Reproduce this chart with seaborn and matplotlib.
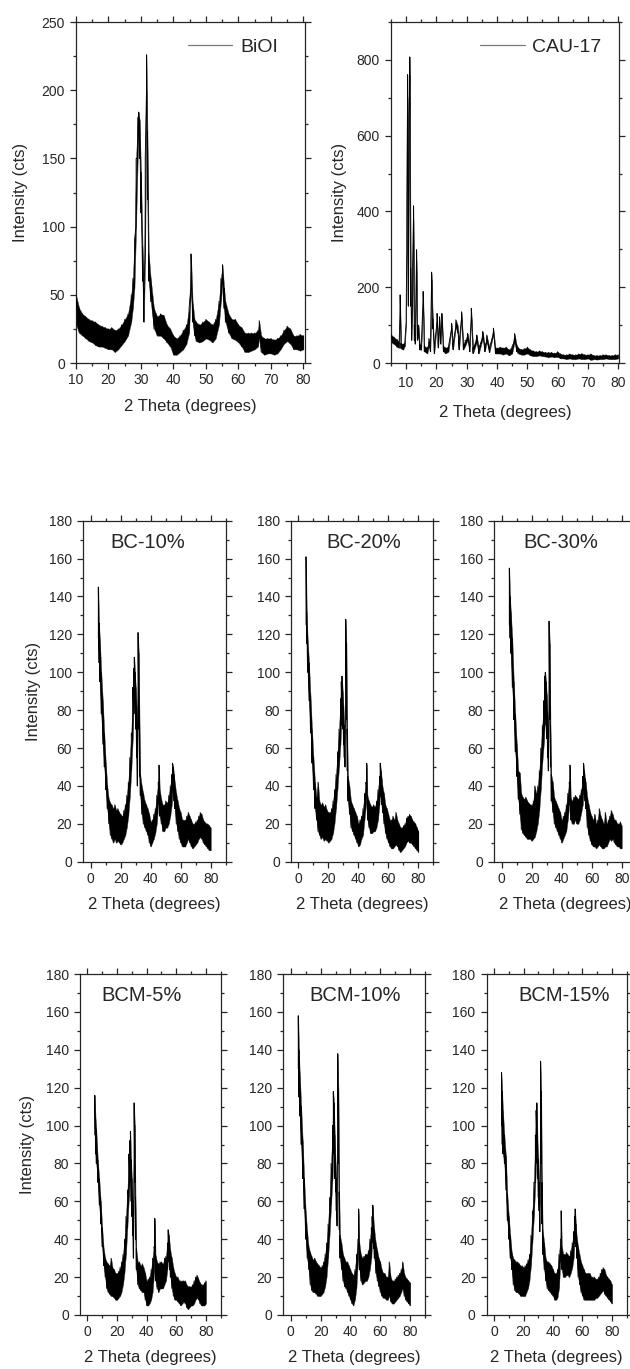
import numpy as np
import pandas as pd
import matplotlib
matplotlib.use("Agg")
import matplotlib.pyplot as plt
from matplotlib.ticker import MultipleLocator
from matplotlib.lines import Line2D
import seaborn as sns

# ---------------------------------------------------------------------------
# XRD patterns: each trace is stored as the 2-theta positions together with the
# lower and upper edge of the noisy signal at that position (counts).
# ---------------------------------------------------------------------------

# BiOI
biol_theta = [10, 11, 12, 13, 14, 15, 16, 17, 18, 19, 20, 21, 22, 23, 24, 25, 26, 27,
              27.5, 28, 28.5, 29, 29.3, 29.6, 30, 30.5, 30.9, 31.3, 31.7, 32.0, 32.4, 33,
              34, 35, 36, 37, 38, 39, 40, 41, 42, 43, 44,
              44.8, 45.4, 45.9, 46.5,
              47, 48, 49, 50, 51, 52, 53, 54,
              54.6, 55.1, 55.6, 56,
              57, 58, 59, 60, 61, 62, 63, 64, 65, 66,
              66.4,
              67, 68, 69, 70, 71, 72, 73, 74, 75, 76, 77, 78, 79, 80]
biol_low = [28, 22, 20, 18, 16, 15, 13, 12, 12, 11, 10, 10, 8, 10, 13, 16, 20, 30,
            40, 55, 100, 150, 170, 150, 110, 60, 30, 80, 200, 120, 60, 45,
            25, 20, 20, 18, 15, 12, 6, 6, 8, 10, 14,
            22, 55, 30, 20,
            16, 15, 16, 18, 17, 15, 18, 28,
            45, 58, 40, 30,
            22, 18, 17, 15, 12, 8, 8, 9, 10, 12,
            18,
            8, 6, 7, 7, 6, 7, 10, 14, 16, 14, 10, 10, 9, 10]
biol_high = [50, 40, 36, 34, 32, 31, 30, 28, 27, 26, 25, 26, 24, 25, 28, 32, 36, 50,
             62, 90, 150, 180, 184, 178, 140, 85, 55, 150, 226, 170, 80, 62,
             40, 34, 36, 35, 28, 25, 20, 18, 20, 24, 28,
             40, 80, 45, 32,
             30, 28, 30, 32, 30, 28, 32, 45,
             62, 72, 55, 45,
             36, 32, 32, 28, 26, 22, 22, 22, 22, 24,
             31,
             20, 18, 18, 18, 17, 18, 20, 24, 27, 25, 20, 20, 21, 20]

# CAU-17
cau_theta = ([5, 6, 7, 7.7, 8.0, 8.3, 9, 9.6]
             + [10.0, 10.2, 10.45, 10.7, 10.9, 11.2, 11.5, 11.8, 12.1, 12.4, 12.7, 13.0,
                13.4, 13.7, 14.1, 14.5]
             + [15.0, 15.6, 16.0, 17.0, 17.5, 18.0, 18.4, 18.8, 19.3, 20.2, 20.6, 21.0,
                21.4, 21.8, 22.3]
             + [23, 24, 25.0, 25.5, 26.4, 27.0, 27.5, 28.3, 28.9, 29.5, 30.3, 31.0, 31.5,
                32.1, 33.3, 34.0, 35.3, 36.0, 36.6, 37.5, 38.8, 39.5]
             + [40, 41, 42, 43, 44, 45, 45.8, 46.5, 47]
             + list(range(48, 81)))
cau_low = ([55, 50, 42, 40, 150, 38, 35, 45]
           + [110, 300, 700, 150, 500, 760, 150, 60, 150, 380, 60, 50, 270, 60, 70, 35]
           + [35, 170, 30, 25, 45, 30, 220, 90, 25, 110, 40, 100, 50, 110, 30]
           + [25, 30, 90, 35, 95, 80, 35, 120, 35, 45, 60, 30, 125, 25, 55, 25, 65, 30,
              55, 28, 75, 25]
           + [25, 25, 22, 25, 20, 25, 55, 30, 25]
           + [22, 22, 25, 20, 18, 18, 20, 18, 17, 15, 17, 15, 16, 12, 12, 10, 12, 10,
              10, 12, 10, 10, 12, 8, 10, 9, 10, 10, 12, 10, 10, 10, 12])
cau_high = ([75, 68, 62, 55, 180, 52, 50, 60]
            + [133, 420, 761, 320, 650, 808, 250, 90, 250, 415, 100, 75, 299, 100, 100, 50]
            + [50, 189, 45, 40, 65, 45, 240, 118, 40, 131, 60, 122, 70, 131, 45]
            + [40, 45, 105, 50, 114, 100, 55, 135, 50, 60, 78, 45, 144, 40, 74, 40, 83,
               45, 74, 40, 92, 40]
            + [40, 42, 40, 42, 35, 45, 78, 48, 40]
            + [36, 38, 42, 35, 32, 30, 32, 30, 28, 28, 28, 26, 30, 24, 22, 22, 24, 22,
               22, 24, 25, 22, 22, 24, 20, 20, 20, 22, 22, 20, 20, 22, 22])

# Composite samples share one 2-theta grid
comp_theta = ([5, 5.5, 6, 7, 8, 9, 10, 11, 12]
              + [13, 14, 15, 16, 17, 18, 19, 20, 21, 22, 23, 24, 25, 26, 27]
              + [28, 28.5, 29, 29.5, 30, 30.5, 31, 31.5, 32, 32.5, 33]
              + [34, 35, 36, 37, 38, 39, 40, 41, 42, 43, 44, 45]
              + [45.5, 46, 47, 48, 49, 50, 51, 52, 53, 54]
              + [54.5, 55, 55.5, 56]
              + list(range(57, 81)))

bc10_low = ([118, 105, 95, 78, 62, 50, 38, 28, 20]
            + [14, 12, 10, 12, 10, 11, 10, 9, 10, 12, 14, 18, 24, 34, 48]
            + [65, 80, 90, 78, 70, 55, 40, 90, 70, 45, 35]
            + [25, 20, 18, 16, 14, 10, 8, 10, 12, 15, 20, 30]
            + [38, 24, 20, 16, 16, 18, 18, 20, 24, 30]
            + [38, 36, 32, 28]
            + [20, 16, 12, 10, 8, 8, 8, 10, 12, 10, 8, 7, 8, 9, 10, 12, 13, 12, 10, 9, 8, 7, 6, 6])
bc10_high = ([145, 126, 118, 100, 85, 68, 52, 40, 33]
             + [31, 30, 28, 30, 27, 28, 26, 25, 24, 27, 30, 35, 42, 55, 68]
             + [92, 102, 108, 100, 92, 82, 60, 121, 110, 75, 46]
             + [40, 36, 32, 30, 28, 25, 21, 22, 25, 28, 35, 42]
             + [51, 38, 33, 30, 30, 32, 31, 35, 40, 46]
             + [52, 50, 46, 42]
             + [36, 32, 28, 26, 22, 22, 22, 24, 26, 24, 22, 20, 20, 21, 22, 24, 26, 25, 22, 21, 20, 20, 19, 18])

bc20_low = ([125, 115, 100, 85, 68, 52, 38, 28, 22]
            + [16, 14, 12, 13, 11, 12, 11, 10, 11, 12, 15, 20, 28, 38, 50]
            + [62, 72, 78, 70, 62, 55, 50, 85, 75, 48, 32]
            + [25, 18, 16, 14, 12, 10, 8, 9, 12, 14, 22, 30]
            + [38, 22, 18, 15, 15, 16, 16, 18, 22, 30]
            + [38, 34, 30, 26]
            + [20, 15, 12, 10, 8, 7, 7, 8, 9, 8, 6, 5, 6, 7, 8, 10, 11, 10, 10, 9, 8, 7, 6, 5])
bc20_high = ([161, 132, 120, 105, 88, 70, 55, 42, 34]
             + [42, 32, 30, 31, 29, 30, 27, 26, 26, 28, 32, 38, 46, 58, 70]
             + [86, 95, 98, 90, 82, 72, 65, 128, 115, 70, 45]
             + [40, 32, 30, 28, 26, 24, 20, 22, 24, 28, 36, 42]
             + [52, 35, 32, 30, 29, 30, 29, 32, 38, 45]
             + [52, 48, 44, 40]
             + [36, 30, 28, 25, 22, 22, 24, 22, 26, 22, 20, 18, 18, 19, 20, 23, 24, 25, 24, 22, 21, 20, 18, 16])

bc30_low = ([125, 118, 110, 92, 75, 58, 45, 33, 25]
            + [17, 15, 14, 13, 12, 12, 12, 11, 12, 13, 16, 20, 27, 38, 52]
            + [62, 70, 76, 72, 65, 55, 48, 80, 75, 50, 32]
            + [26, 20, 18, 16, 14, 12, 10, 12, 14, 16, 22, 30]
            + [37, 22, 20, 20, 22, 20, 20, 22, 26, 30]
            + [38, 35, 32, 28]
            + [18, 14, 11, 9, 8, 8, 7, 8, 9, 8, 7, 7, 8, 8, 10, 12, 11, 12, 10, 9, 8, 8, 7, 7])
bc30_high = ([155, 140, 132, 118, 95, 78, 62, 48, 47]
             + [36, 34, 33, 34, 32, 31, 30, 30, 32, 40, 36, 40, 48, 60, 72]
             + [85, 98, 100, 95, 88, 78, 62, 127, 115, 72, 46]
             + [42, 34, 32, 30, 28, 26, 22, 24, 26, 30, 36, 42]
             + [51, 34, 32, 34, 35, 34, 33, 35, 38, 45]
             + [52, 48, 44, 42]
             + [34, 30, 26, 24, 22, 25, 20, 22, 28, 24, 22, 20, 26, 20, 22, 24, 27, 25, 22, 22, 20, 20, 21, 19])

bcm5_low = ([95, 85, 80, 70, 58, 48, 36, 26, 20]
            + [14, 12, 11, 10, 10, 9, 8, 8, 9, 10, 12, 16, 22, 32, 46]
            + [62, 70, 74, 60, 52, 42, 30, 82, 70, 40, 24]
            + [16, 14, 13, 12, 12, 8, 5, 5, 6, 8, 12, 22]
            + [34, 18, 14, 12, 14, 14, 14, 16, 18, 24]
            + [30, 28, 24, 20]
            + [14, 10, 8, 8, 7, 6, 5, 6, 7, 6, 4, 3, 4, 5, 5, 6, 8, 9, 8, 6, 5, 5, 5, 6])
bcm5_high = ([116, 104, 98, 82, 72, 60, 46, 35, 30]
             + [28, 27, 26, 30, 25, 24, 22, 22, 23, 25, 28, 32, 40, 52, 66]
             + [85, 92, 97, 82, 72, 60, 45, 112, 100, 62, 35]
             + [28, 28, 26, 27, 25, 22, 18, 19, 20, 24, 30, 36]
             + [51, 32, 28, 27, 28, 28, 27, 30, 31, 38]
             + [45, 42, 38, 34]
             + [30, 25, 22, 20, 20, 18, 18, 18, 18, 18, 16, 15, 15, 15, 16, 18, 20, 21, 19, 17, 16, 16, 17, 18])

bcm10_low = ([130, 115, 105, 90, 72, 56, 40, 30, 24]
             + [16, 13, 12, 12, 11, 10, 10, 10, 11, 12, 15, 20, 30, 42, 58]
             + [72, 85, 88, 72, 65, 55, 47, 95, 80, 45, 30]
             + [24, 18, 15, 14, 12, 10, 8, 6, 5, 8, 14, 28]
             + [40, 24, 18, 16, 17, 18, 18, 20, 24, 30]
             + [38, 40, 35, 30]
             + [22, 18, 15, 12, 10, 9, 9, 8, 8, 10, 7, 6, 6, 7, 8, 9, 10, 12, 14, 10, 8, 7, 6, 5])
bcm10_high = ([158, 140, 128, 110, 92, 72, 55, 44, 36]
              + [33, 31, 29, 30, 28, 27, 26, 25, 26, 28, 32, 38, 48, 62, 80]
              + [100, 118, 112, 95, 82, 72, 62, 138, 118, 65, 42]
              + [38, 32, 30, 28, 28, 26, 24, 22, 21, 24, 32, 40]
              + [56, 38, 32, 30, 31, 32, 32, 34, 40, 46]
              + [52, 58, 50, 45]
              + [38, 34, 30, 28, 24, 22, 22, 20, 20, 28, 20, 18, 18, 19, 20, 21, 22, 24, 28, 22, 20, 19, 18, 17])

bcm15_low = ([100, 90, 85, 80, 66, 50, 40, 30, 24]
             + [16, 13, 12, 12, 11, 10, 10, 10, 10, 12, 14, 18, 26, 38, 52]
             + [70, 80, 90, 72, 62, 55, 44, 90, 80, 48, 32]
             + [24, 18, 14, 13, 12, 11, 10, 8, 8, 9, 14, 28]
             + [40, 24, 20, 20, 21, 21, 20, 22, 25, 30]
             + [38, 42, 36, 30]
             + [20, 16, 12, 10, 8, 8, 8, 8, 8, 8, 8, 8, 9, 9, 10, 11, 12, 13, 11, 10, 9, 8, 7, 6])
bcm15_high = ([128, 118, 108, 95, 84, 64, 52, 42, 33]
              + [30, 29, 28, 28, 27, 26, 26, 25, 26, 27, 29, 32, 42, 55, 70]
              + [95, 108, 112, 92, 82, 70, 58, 134, 118, 70, 45]
              + [38, 30, 28, 28, 27, 26, 24, 22, 22, 24, 32, 40]
              + [55, 36, 32, 32, 33, 32, 31, 34, 38, 44]
              + [52, 56, 48, 42]
              + [36, 32, 28, 26, 24, 22, 22, 22, 22, 20, 20, 20, 19, 19, 20, 22, 24, 25, 24, 21, 20, 19, 18, 16])

sample_names = ["BiOI", "CAU-17", "BC-10%", "BC-20%", "BC-30%", "BCM-5%", "BCM-10%", "BCM-15%"]

X_LABEL = "2 Theta (degrees)"
Y_LABEL = "Intensity (cts)"

# ---------------------------------------------------------------------------
sns.set_theme(style="ticks")
plt.rcParams["font.family"] = ["Liberation Sans", "DejaVu Sans"]

W, H = 630, 1369
fig = plt.figure(figsize=(W / 100, H / 100), dpi=100)
fig.patch.set_facecolor("white")

INK = "#262626"


def add_axes_px(left, top, right, bottom):
    return fig.add_axes([left / W, 1 - bottom / H, (right - left) / W, (bottom - top) / H])


def draw_trace(ax, theta, low, high):
    theta = np.asarray(theta, float)
    low = np.asarray(low, float)
    high = np.asarray(high, float)
    ax.fill_between(theta, low, high, color="black", lw=0.3, edgecolor="#3a3a3a", zorder=2)
    # alternate between the lower and upper edge to render the counting noise
    df = pd.DataFrame({"theta": np.repeat(theta, 2),
                       "counts": np.column_stack([low, high]).ravel()})
    sns.lineplot(data=df, x="theta", y="counts", estimator=None, sort=False,
                 color="black", lw=0.6, ax=ax, zorder=3)


def style(ax, xlim, ylim, xmaj, xmin, ymaj, ymin, xpad, ypad):
    ax.set_xlim(*xlim)
    ax.set_ylim(*ylim)
    ax.xaxis.set_major_locator(MultipleLocator(xmaj))
    ax.xaxis.set_minor_locator(MultipleLocator(xmin))
    ax.yaxis.set_major_locator(MultipleLocator(ymaj))
    ax.yaxis.set_minor_locator(MultipleLocator(ymin))
    ax.tick_params(which="both", direction="out", top=True, right=True,
                   labeltop=False, labelright=False, width=0.9, color=INK,
                   labelcolor=INK, labelsize=10)
    ax.tick_params(which="major", length=4)
    ax.tick_params(which="minor", length=2.3)
    ax.tick_params(axis="x", which="major", pad=xpad)
    ax.tick_params(axis="y", which="major", pad=ypad)
    for sp in ax.spines.values():
        sp.set_linewidth(0.9)
        sp.set_color(INK)
    ax.set_facecolor("white")
    ax.grid(False)


def legend_box(ax, name, anchor):
    handle = Line2D([0], [0], color="#7a7a7a", lw=0.9)
    ax.legend([handle], [name], loc="upper right", bbox_to_anchor=anchor,
              frameon=False, fontsize=14, handlelength=2.3, handletextpad=0.4,
              borderpad=0, borderaxespad=0, labelcolor=INK)


# --- top row --------------------------------------------------------------
ax = add_axes_px(76, 22, 305, 363)
draw_trace(ax, biol_theta, biol_low, biol_high)
style(ax, (10, 80.5), (0, 250), 10, 5, 50, 25, xpad=3.5, ypad=4)
ax.set_xlabel(X_LABEL, fontsize=12, color=INK, labelpad=8.5)
ax.set_ylabel(Y_LABEL, fontsize=12, color=INK, labelpad=10)
legend_box(ax, sample_names[0], (0.882, 0.952))

ax = add_axes_px(391, 22, 619, 363)
draw_trace(ax, cau_theta, cau_low, cau_high)
style(ax, (5, 80.3), (0, 900), 10, 5, 200, 100, xpad=5.5, ypad=4)
ax.set_xlabel(X_LABEL, fontsize=12, color=INK, labelpad=10.5)
ax.set_ylabel(Y_LABEL, fontsize=12, color=INK, labelpad=6.5)
legend_box(ax, sample_names[1], (0.924, 0.952))

# --- composite rows -------------------------------------------------------
composites = [
    (bc10_low, bc10_high), (bc20_low, bc20_high), (bc30_low, bc30_high),
    (bcm5_low, bcm5_high), (bcm10_low, bcm10_high), (bcm15_low, bcm15_high),
]
frames = [
    (83.3, 520.7, 225.7, 861.7), (291, 520.7, 433.4, 861.7), (494.3, 520.7, 636.7, 861.7),
    (80, 974, 220.7, 1315), (283.3, 974, 425, 1315), (486.7, 974, 626.7, 1315),
]
title_x = [0.454, 0.51, 0.468, 0.44, 0.506, 0.552]
ylabel_pad = [6.0, None, None, 8.0, None, None]

for i, ((low, high), fr) in enumerate(zip(composites, frames)):
    ax = add_axes_px(*fr)
    draw_trace(ax, comp_theta, low, high)
    style(ax, (-5, 90), (0, 180), 20, 10, 20, 10, xpad=3.5, ypad=4)
    ax.set_xlabel(X_LABEL, fontsize=12, color=INK, labelpad=7.5)
    if ylabel_pad[i] is not None:
        ax.set_ylabel(Y_LABEL, fontsize=12, color=INK, labelpad=ylabel_pad[i])
    else:
        ax.set_ylabel("")
    ax.text(title_x[i], 0.937, sample_names[i + 2], transform=ax.transAxes,
            ha="center", va="center", fontsize=14.5, color=INK)

fig.savefig("out.png", dpi=100, facecolor="white")
